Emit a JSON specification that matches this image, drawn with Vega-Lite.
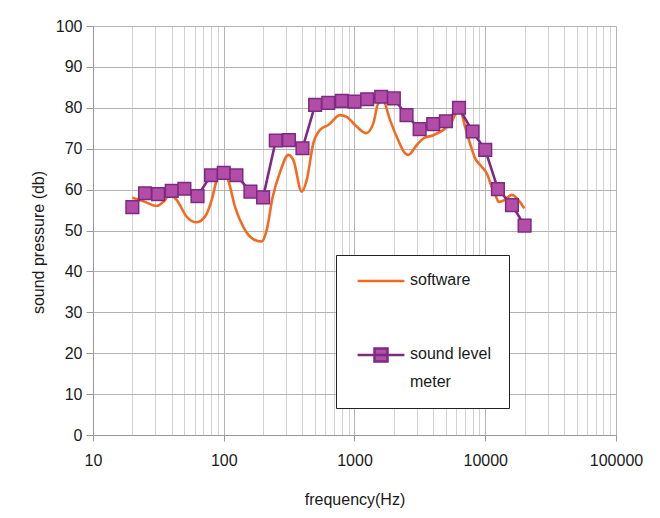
{
  "$schema": "https://vega.github.io/schema/vega-lite/v6.json",
  "width": 523,
  "height": 409,
  "autosize": {"type": "none"},
  "padding": {"left": 93, "top": 26, "right": 44, "bottom": 83},
  "background": "white",
  "config": {
    "view": {"stroke": null},
    "font": "Liberation Sans",
    "axis": {"labelFont": "Liberation Sans", "titleFont": "Liberation Sans", "labelFontSize": 16, "titleFontSize": 16, "titleFontWeight": "normal", "labelColor": "#1a1a1a", "titleColor": "#1a1a1a"},
    "legend": {"labelFont": "Liberation Sans", "labelFontSize": 16, "labelColor": "#1a1a1a"}
  },
  "data": {"values": [
    {"f": 20, "v": 58.0, "s": "software"},
    {"f": 25, "v": 57.0, "s": "software"},
    {"f": 30.7, "v": 56.0, "s": "software"},
    {"f": 34.5, "v": 57.0, "s": "software"},
    {"f": 38.8, "v": 58.7, "s": "software"},
    {"f": 43.6, "v": 57.5, "s": "software"},
    {"f": 52, "v": 53.4, "s": "software"},
    {"f": 61.4, "v": 52.0, "s": "software"},
    {"f": 71.9, "v": 53.4, "s": "software"},
    {"f": 80.9, "v": 57.5, "s": "software"},
    {"f": 88.3, "v": 62.3, "s": "software"},
    {"f": 95, "v": 64.5, "s": "software"},
    {"f": 108, "v": 62.3, "s": "software"},
    {"f": 122, "v": 55.8, "s": "software"},
    {"f": 141, "v": 50.9, "s": "software"},
    {"f": 168, "v": 47.9, "s": "software"},
    {"f": 195, "v": 47.3, "s": "software"},
    {"f": 213, "v": 50.1, "s": "software"},
    {"f": 236, "v": 58.0, "s": "software"},
    {"f": 269, "v": 64.2, "s": "software"},
    {"f": 312, "v": 68.5, "s": "software"},
    {"f": 341, "v": 67.2, "s": "software"},
    {"f": 394, "v": 59.5, "s": "software"},
    {"f": 431, "v": 62.3, "s": "software"},
    {"f": 484, "v": 71.3, "s": "software"},
    {"f": 545, "v": 74.6, "s": "software"},
    {"f": 631, "v": 75.8, "s": "software"},
    {"f": 775, "v": 78.2, "s": "software"},
    {"f": 871, "v": 77.8, "s": "software"},
    {"f": 1039, "v": 75.4, "s": "software"},
    {"f": 1224, "v": 73.8, "s": "software"},
    {"f": 1393, "v": 76.2, "s": "software"},
    {"f": 1521, "v": 81.1, "s": "software"},
    {"f": 1661, "v": 81.5, "s": "software"},
    {"f": 1870, "v": 77.0, "s": "software"},
    {"f": 2104, "v": 72.9, "s": "software"},
    {"f": 2434, "v": 68.9, "s": "software"},
    {"f": 2581, "v": 68.5, "s": "software"},
    {"f": 2990, "v": 70.9, "s": "software"},
    {"f": 3360, "v": 72.5, "s": "software"},
    {"f": 4006, "v": 73.3, "s": "software"},
    {"f": 4779, "v": 74.6, "s": "software"},
    {"f": 5536, "v": 76.6, "s": "software"},
    {"f": 6050, "v": 79.0, "s": "software"},
    {"f": 6412, "v": 79.5, "s": "software"},
    {"f": 7003, "v": 75.4, "s": "software"},
    {"f": 7643, "v": 71.3, "s": "software"},
    {"f": 8350, "v": 67.7, "s": "software"},
    {"f": 9390, "v": 65.6, "s": "software"},
    {"f": 10260, "v": 64.0, "s": "software"},
    {"f": 11200, "v": 60.7, "s": "software"},
    {"f": 12240, "v": 57.9, "s": "software"},
    {"f": 12590, "v": 57.0, "s": "software"},
    {"f": 14150, "v": 57.5, "s": "software"},
    {"f": 15920, "v": 58.7, "s": "software"},
    {"f": 17900, "v": 57.5, "s": "software"},
    {"f": 19900, "v": 55.4, "s": "software"},
    {"f": 20, "v": 55.7, "s": "sound level meter"},
    {"f": 25, "v": 59.1, "s": "sound level meter"},
    {"f": 31.5, "v": 58.9, "s": "sound level meter"},
    {"f": 40, "v": 59.7, "s": "sound level meter"},
    {"f": 50, "v": 60.2, "s": "sound level meter"},
    {"f": 63, "v": 58.4, "s": "sound level meter"},
    {"f": 80, "v": 63.5, "s": "sound level meter"},
    {"f": 100, "v": 64.1, "s": "sound level meter"},
    {"f": 125, "v": 63.5, "s": "sound level meter"},
    {"f": 160, "v": 59.5, "s": "sound level meter"},
    {"f": 200, "v": 58.1, "s": "sound level meter"},
    {"f": 250, "v": 72.0, "s": "sound level meter"},
    {"f": 315, "v": 72.1, "s": "sound level meter"},
    {"f": 400, "v": 70.1, "s": "sound level meter"},
    {"f": 500, "v": 80.7, "s": "sound level meter"},
    {"f": 630, "v": 81.2, "s": "sound level meter"},
    {"f": 800, "v": 81.7, "s": "sound level meter"},
    {"f": 1000, "v": 81.5, "s": "sound level meter"},
    {"f": 1250, "v": 82.1, "s": "sound level meter"},
    {"f": 1600, "v": 82.7, "s": "sound level meter"},
    {"f": 2000, "v": 82.3, "s": "sound level meter"},
    {"f": 2500, "v": 78.2, "s": "sound level meter"},
    {"f": 3150, "v": 74.8, "s": "sound level meter"},
    {"f": 4000, "v": 76.0, "s": "sound level meter"},
    {"f": 5000, "v": 76.7, "s": "sound level meter"},
    {"f": 6300, "v": 80.0, "s": "sound level meter"},
    {"f": 8000, "v": 74.2, "s": "sound level meter"},
    {"f": 10000, "v": 69.7, "s": "sound level meter"},
    {"f": 12500, "v": 60.1, "s": "sound level meter"},
    {"f": 16000, "v": 56.2, "s": "sound level meter"},
    {"f": 20000, "v": 51.2, "s": "sound level meter"}
  ]},
  "encoding": {
    "x": {
      "field": "f", "type": "quantitative",
      "scale": {"type": "log", "domain": [10, 100000], "nice": false},
      "axis": {
        "title": "frequency(Hz)",
        "titlePadding": 23,
        "values": [10,20,30,40,50,60,70,80,90,100,200,300,400,500,600,700,800,900,1000,2000,3000,4000,5000,6000,7000,8000,9000,10000,20000,30000,40000,50000,60000,70000,80000,90000,100000],
        "labelExpr": "abs(log(datum.value)/LN10 - round(log(datum.value)/LN10)) < 0.001 ? format(datum.value, 'd') : ''",
        "labelFlush": false,
        "labelOverlap": false,
        "labelBound": false,
        "labelPadding": 11,
        "tickSize": 6,
        "tickColor": "#999999",
        "tickOpacity": {"condition": {"test": "abs(log(datum.value)/LN10 - round(log(datum.value)/LN10)) < 0.001", "value": 1}, "value": 0},
        "domainColor": "#999999",
        "grid": true,
        "gridColor": {"condition": {"test": "abs(log(datum.value)/LN10 - round(log(datum.value)/LN10)) < 0.001", "value": "#b4b4b4"}, "value": "#d2d2d2"},
        "gridWidth": 1
      }
    },
    "y": {
      "field": "v", "type": "quantitative",
      "scale": {"domain": [0, 100], "nice": false},
      "axis": {
        "title": "sound pressure (db)",
        "titlePadding": 9,
        "titleY": 216,
        "values": [0,10,20,30,40,50,60,70,80,90,100],
        "tickSize": 7,
        "tickColor": "#999999",
        "domainColor": "#999999",
        "labelPadding": 4,
        "grid": true,
        "gridColor": "#b4b4b4",
        "gridWidth": 1
      }
    }
  },
  "layer": [
    {
      "transform": [{"filter": "datum.s === 'software'"}],
      "mark": {"type": "line", "strokeWidth": 2.6, "interpolate": "monotone"},
      "encoding": {
        "color": {
          "field": "s", "type": "nominal",
          "scale": {"domain": ["software", "sound level meter"], "range": ["#f26b21", "#7d2a82"]},
          "legend": {
            "title": null,
            "orient": "none",
            "legendX": 243,
            "legendY": 229,
            "padding": 18,
            "fillColor": "white",
            "strokeColor": "#222222",
            "symbolSize": 169,
            "symbolOffset": 19,
            "labelOffset": 21,
            "rowPadding": 55,
            "symbolStrokeWidth": 2.5,
            "labelBaseline": "top",
            "labelExpr": "datum.label == 'sound level meter' ? ['sound level\u2003', 'meter'] : datum.label",
            "encode": {
              "symbols": {"update": {
                "shape": [{"test": "datum.value === 'software'", "value": "M-3.6,0H3.6"}, {"value": "M-3.6,0H3.6M-1,-1H1V1H-1Z"}],
                "fill": [{"test": "datum.value === 'software'", "value": "transparent"}, {"value": "#b24da8"}]
              }},
              "labels": {"update": {"dy": {"value": -9}, "lineHeight": {"value": 28}}}
            }
          }
        }
      }
    },
    {
      "transform": [{"filter": "datum.s === 'sound level meter'"}],
      "mark": {"type": "line", "strokeWidth": 2.6},
      "encoding": {
        "color": {"field": "s", "type": "nominal"}
      }
    },
    {
      "transform": [{"filter": "datum.s === 'sound level meter'"}],
      "mark": {"type": "point", "shape": "square", "size": 160, "filled": true, "fill": "#b24da8", "stroke": "#7d2a82", "strokeWidth": 1.5, "opacity": 1}
    }
  ]
}
